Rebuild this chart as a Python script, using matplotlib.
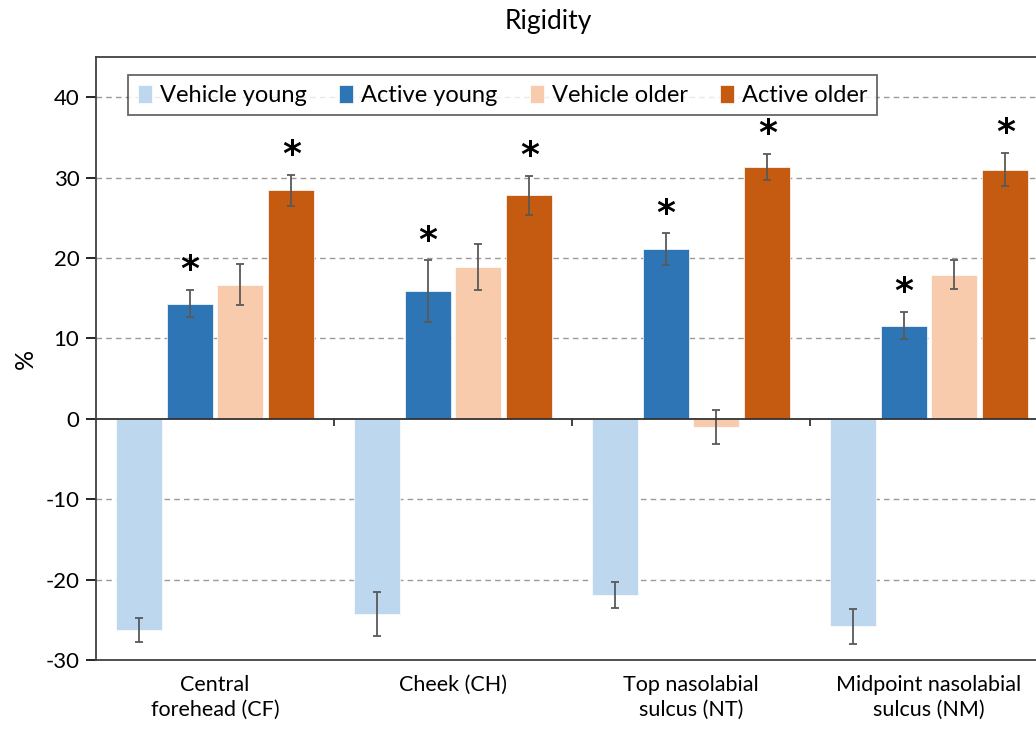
import numpy as np
import matplotlib
matplotlib.use("Agg")
import matplotlib.pyplot as plt

plt.rcParams['font.family'] = ['Lato', 'DejaVu Sans']
plt.rcParams['axes.unicode_minus'] = False

# data
sites = ["Central\nforehead (CF)", "Cheek (CH)", "Top nasolabial\nsulcus (NT)", "Midpoint nasolabial\nsulcus (NM)"]
series = ["Vehicle young", "Active young", "Vehicle older", "Active older"]
vehicle_young = [-26.3, -24.3, -21.9, -25.8]
active_young = [14.3, 15.9, 21.1, 11.6]
vehicle_older = [16.7, 18.9, -1.0, 17.9]
active_older = [28.4, 27.8, 31.3, 31.0]
err_vehicle_young = [1.5, 2.7, 1.65, 2.2]
err_active_young = [1.7, 3.8, 1.95, 1.7]
err_vehicle_older = [2.55, 2.9, 2.1, 1.8]
err_active_older = [1.95, 2.4, 1.65, 2.1]
significant = [False, True, False, True]  # star on active bars

colors = ["#BDD7EE", "#2E75B6", "#F8CBAD", "#C55A11"]
values = [vehicle_young, active_young, vehicle_older, active_older]
errors = [err_vehicle_young, err_active_young, err_vehicle_older, err_active_older]

fig = plt.figure(figsize=(10.36, 7.37), dpi=100)
ax = fig.add_axes([96/1036, 1-660/737, 952/1036, 603/737])

x = np.arange(len(sites))
step = 0.214
width = 0.193
for i in range(4):
    pos = x + (i - 1.5) * step
    ax.bar(pos, values[i], width, color=colors[i], label=series[i], zorder=3,
           edgecolor="white", linewidth=0.5)
    ax.errorbar(pos, values[i], yerr=errors[i], fmt="none", ecolor="#595959",
                elinewidth=1.3, capsize=3, capthick=1.3, zorder=4)
    if significant[i]:
        for p, v, e in zip(pos, values[i], errors[i]):
            ax.annotate("*", (p, v + e), xytext=(0, 2), textcoords="offset points",
                        ha="center", va="bottom", fontsize=26, fontweight="bold",
                        family="DejaVu Sans", zorder=7)

ax.set_xlim(-0.5, len(sites) - 0.5)
ax.set_ylim(-30, 45)
ax.set_yticks(np.arange(-30, 41, 10))
ax.tick_params(axis="y", direction="out", length=7, width=1.2, labelsize=16, pad=5)
ax.set_xticks(x)
ax.set_xticklabels(sites, fontsize=15.5, linespacing=1.3)
ax.tick_params(axis="x", length=0, pad=11)

for y in range(-20, 41, 10):
    if y != 0:
        ax.axhline(y, color="#9a9a9a", linestyle=(0, (4, 3)), linewidth=1, zorder=1)
ax.axhline(0, color="#333333", linewidth=1.3, zorder=4)
ax.vlines(x[:-1] + 0.5, -0.9, 0, color="#333333", linewidth=1.3, zorder=4)

for s in ["top", "bottom", "left"]:
    ax.spines[s].set_color("#404040")
    ax.spines[s].set_linewidth(1.3)
ax.spines["right"].set_visible(False)

ax.set_ylabel("%", fontsize=18, labelpad=6)

leg = ax.legend(loc="upper left", bbox_to_anchor=(0.034, 0.97), ncol=4, fontsize=17,
                handlelength=0.6, handleheight=0.8, handletextpad=0.35,
                columnspacing=1.35, borderpad=0.4, frameon=True, fancybox=False,
                borderaxespad=0)
leg.get_frame().set_edgecolor("#404040")
leg.get_frame().set_linewidth(1.3)
leg.set_zorder(6)

fig.text(548/1036, 1-22/737, "Rigidity", ha="center", va="center", fontsize=19)

fig.savefig("out.png", dpi=100)
